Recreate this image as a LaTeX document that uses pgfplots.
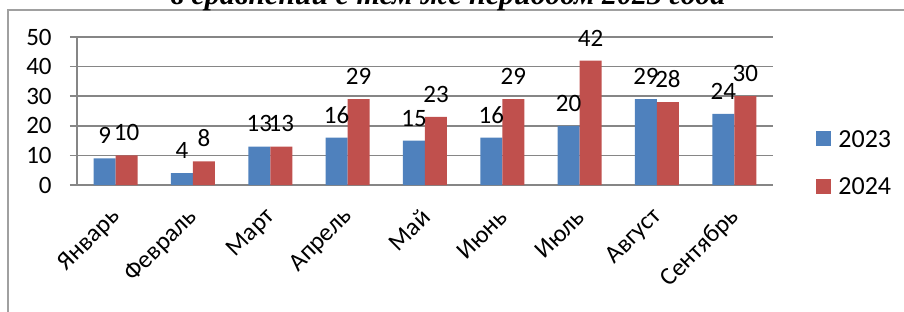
\documentclass[border=0pt]{standalone}
\usepackage{pgfplots}
\pgfplotsset{compat=1.18}
\usepackage{fontspec}
\setmainfont{Carlito}
\newfontfamily\titlefont{Liberation Serif}
\definecolor{cblue}{HTML}{4F81BD}
\definecolor{cred}{HTML}{C0504D}
\definecolor{gridc}{HTML}{868686}
\definecolor{framec}{HTML}{A0A0A0}
\newcommand{\lblfont}{\fontsize{12.5}{14}\selectfont}
\begin{document}
\begin{tikzpicture}[x=1pt,y=1pt]
\useasboundingbox (0,0) rectangle (452,155.5);
\clip (0,0) rectangle (452,155.5);
\draw[framec, line width=0.8pt] (4,-5) -- (4,150.5) -- (460,150.5);
\node[anchor=base, inner sep=0pt, font=\titlefont\bfseries\itshape\fontsize{15}{17}\selectfont] at (224,153.4) {в сравнении с тем же периодом 2023 года};
\begin{axis}[at={(38.5pt,63pt)}, anchor=south west, scale only axis,
  width=348pt, height=74pt,
  ybar=0pt, bar width=11pt,
  legend image code/.code={\fill[#1] (0pt,-3.75pt) rectangle (7.5pt,3.75pt);},
  xmin=-0.5, xmax=8.5, ymin=0, ymax=50,
  ytick={0,10,...,50},
  xtick={0,...,8},
  xticklabels={Январь,Февраль,Март,Апрель,Май,Июнь,Июль,Август,Сентябрь},
  x tick style={draw=none},
  extra x ticks={-0.5,0.5,...,8.5},
  extra x tick labels={},
  extra x tick style={grid=none, tick align=outside, major tick length=3pt, tick style={draw=gridc, line width=0.8pt}},
  y tick style={draw=gridc, line width=0.8pt},
  ytick align=outside, major tick length=3.5pt,
  axis x line*=bottom, axis y line*=left,
  axis line style={gridc, line width=0.8pt},
  ymajorgrids, grid style={gridc, line width=0.8pt},
  /pgf/number format/assume math mode=true,
  tick label style={font=\lblfont},
  yticklabel style={anchor=east, inner sep=0pt, xshift=-9pt},
  xticklabel style={yshift=-10.5pt, xshift=0.5pt, inner sep=0pt, rotate=45, anchor=east},
  nodes near coords,
  nodes near coords style={font=\lblfont, anchor=south, inner sep=0pt, yshift=7pt, text=black},
  legend style={at={(axis description cs:1,0.152)}, anchor=west, xshift=21.5pt,
    draw=none, fill=none, inner sep=0pt, row sep=15.5pt,
    font=\fontsize{13}{15}\selectfont,
    nodes={inner sep=0pt, text depth=0pt}},
  legend cell align=left,
  /tikz/every odd column/.append style={column sep=3.5pt},
]
\addplot[fill=cblue, draw=none] coordinates {(0,9) (1,4) (2,13) (3,16) (4,15) (5,16) (6,20) (7,29) (8,24)};
\addplot[fill=cred, draw=none] coordinates {(0,10) (1,8) (2,13) (3,29) (4,23) (5,29) (6,42) (7,28) (8,30)};
\legend{2023,2024}
\end{axis}
\end{tikzpicture}
\end{document}
